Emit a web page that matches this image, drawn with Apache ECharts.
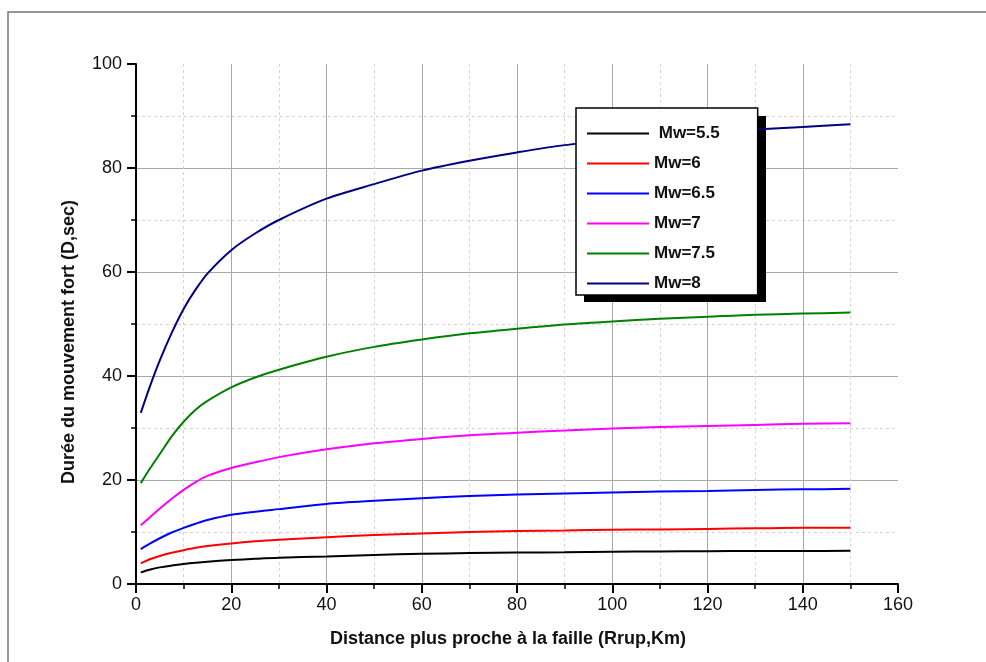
<!DOCTYPE html>
<html>
<head>
<meta charset="utf-8">
<script src="https://cdn.jsdelivr.net/npm/echarts@6/dist/echarts.min.js"></script>
<style>
html,body{margin:0;padding:0;background:#fff;}
#chart{width:986px;height:662px;}
</style>
</head>
<body>
<div id="chart"></div>
<script>
// Distance Rrup (km)
const distances = [1, 3, 5, 7.5, 10, 12.5, 15, 20, 25, 30, 40, 50, 60, 70, 80, 90, 100, 110, 120, 130, 140, 150];
// Duration D (sec) per magnitude
const mw55 = [2.24, 2.8, 3.2, 3.55, 3.85, 4.1, 4.3, 4.6, 4.85, 5.06, 5.3, 5.6, 5.8, 5.95, 6.05, 6.1, 6.2, 6.25, 6.3, 6.35, 6.35, 6.4];
const mw6  = [3.97, 4.8, 5.4, 6.0, 6.5, 6.95, 7.3, 7.8, 8.2, 8.5, 9.0, 9.4, 9.7, 10.0, 10.2, 10.3, 10.45, 10.5, 10.6, 10.7, 10.8, 10.8];
const mw65 = [6.7, 7.8, 8.8, 9.9, 10.8, 11.6, 12.3, 13.3, 13.9, 14.4, 15.4, 16.0, 16.5, 16.9, 17.2, 17.4, 17.6, 17.8, 17.9, 18.1, 18.2, 18.3];
const mw7  = [11.3, 12.9, 14.5, 16.4, 18.1, 19.6, 20.8, 22.3, 23.4, 24.4, 25.9, 27.05, 27.9, 28.6, 29.1, 29.5, 29.9, 30.2, 30.4, 30.6, 30.8, 30.9];
const mw75 = [19.4, 22.3, 25.0, 28.4, 31.2, 33.5, 35.2, 37.8, 39.7, 41.2, 43.7, 45.6, 47.0, 48.2, 49.1, 49.9, 50.5, 51.0, 51.4, 51.8, 52.0, 52.2];
const mw8  = [32.9, 38.2, 43.0, 48.3, 52.9, 56.6, 59.7, 64.2, 67.4, 70.0, 74.1, 76.9, 79.5, 81.4, 83.0, 84.4, 85.3, 86.1, 86.8, 87.4, 87.9, 88.4];
const seriesNames = [' Mw=5.5', 'Mw=6', 'Mw=6.5', 'Mw=7', 'Mw=7.5', 'Mw=8'];
const seriesData = [mw55, mw6, mw65, mw7, mw75, mw8];
const seriesColors = ['#000000', '#ff0000', '#0000ff', '#ff00ff', '#008000', '#000080'];
const xTitle = 'Distance plus proche à la faille (Rrup,Km)';
const yTitle = 'Durée du mouvement fort (D,sec)';

const FONT = '"Liberation Sans", Arial, sans-serif';
const chart = echarts.init(document.getElementById('chart'), null, {renderer: 'canvas'});

function axisCommon() {
  return {
    axisLine: {show: true, onZero: false, lineStyle: {color: '#000', width: 2}},
    axisTick: {show: true, inside: false, length: 9, lineStyle: {color: '#000', width: 2}},
    minorTick: {show: true, splitNumber: 2, length: 5, lineStyle: {color: '#000', width: 1.5}},
    splitLine: {show: true, showMinLine: false, showMaxLine: false, lineStyle: {color: '#a8a8a8', width: 1}},
    minorSplitLine: {show: true, lineStyle: {color: '#d4d4d4', width: 1, type: [3, 3]}},
    axisLabel: {color: '#111', fontFamily: FONT, fontSize: 18},
    nameTextStyle: {color: '#111', fontFamily: FONT, fontSize: 18, fontWeight: 'bold'}
  };
}

const xAxis = Object.assign(axisCommon(), {
  type: 'value', min: 0, max: 160, interval: 20,
  name: xTitle, nameLocation: 'middle', nameGap: 46
});
xAxis.axisLabel = Object.assign(xAxis.axisLabel, {margin: 12});
xAxis.nameTextStyle = Object.assign(xAxis.nameTextStyle, {padding: [0, 18, 0, 0]});

const yAxis = Object.assign(axisCommon(), {
  type: 'value', min: 0, max: 100, interval: 20,
  name: yTitle, nameLocation: 'middle', nameGap: 58, nameRotate: 90
});
yAxis.axisLabel = Object.assign(yAxis.axisLabel, {margin: 14});
yAxis.nameTextStyle = Object.assign(yAxis.nameTextStyle, {padding: [0, 36, 0, 0]});

chart.setOption({
  animation: false,
  backgroundColor: '#fff',
  graphic: [{
    type: 'rect', z: -10, silent: true,
    shape: {x: 8, y: 12, width: 1000, height: 700},
    style: {fill: 'none', stroke: '#777', lineWidth: 1.5}
  }, {
    type: 'rect', z: 3, silent: true,
    shape: {x: 584, y: 116, width: 182, height: 186},
    style: {fill: '#000'}
  }],
  grid: {left: 136, right: 88, top: 64, bottom: 78, containLabel: false},
  legend: {
    orient: 'vertical',
    left: 576, top: 108,
    padding: [17, 38, 3, 11],
    icon: 'rect',
    itemWidth: 62, itemHeight: 2, itemGap: 13,
    backgroundColor: '#fff',
    borderColor: '#000', borderWidth: 1.5,
    textStyle: {color: '#111', fontFamily: FONT, fontSize: 17, fontWeight: 'bold', lineHeight: 16},
    data: seriesNames
  },
  xAxis: xAxis,
  yAxis: yAxis,
  series: seriesNames.map((n, i) => ({
    name: n,
    type: 'line',
    smooth: 0.3,
    symbol: 'none',
    color: seriesColors[i],
    lineStyle: {width: 2, color: seriesColors[i]},
    data: distances.map((d, j) => [d, seriesData[i][j]])
  }))
});
</script>
</body>
</html>
